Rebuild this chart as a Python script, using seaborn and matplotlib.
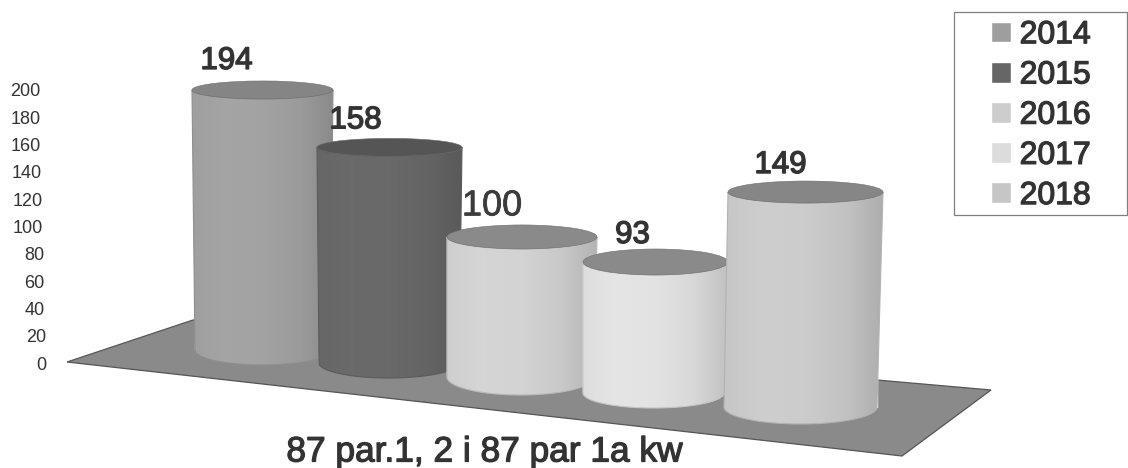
import numpy as np
import pandas as pd
import matplotlib
matplotlib.use("Agg")
import matplotlib.pyplot as plt
from matplotlib.path import Path
from matplotlib.patches import PathPatch, Polygon, Rectangle, Ellipse
from matplotlib.transforms import ScaledTranslation
import matplotlib.patheffects as pe
import seaborn as sns

# ---- data
years = ["2014", "2015", "2016", "2017", "2018"]
values = [194, 158, 100, 93, 149]
y_ticks = list(range(0, 201, 20))
x_title = "87 par.1, 2 i 87 par 1a kw"

# ---- styling / perspective layout (pixels unless noted)
grays = ["#9e9e9e", "#666666", "#cdcdcd", "#dcdcdc", "#c6c6c6"]
top_grays = ["#858585", "#555555", "#8a8a8a", "#8a8a8a", "#868686"]
centers = [262.5, 389.5, 522, 655.5, 805.5]
widths = [141, 145, 150, 145, 155]
base_px = [350, 363, 377, 393, 407]
persp = [0.982, 1.0, 1.026, 1.032, 1.057]
top_semi = [9, 9, 12, 13, 11]
bot_semi = [15, 15, 18, 15, 17]
left_shift = [3, 2, 0, 0, -4]
right_shift = [-3, -3, -3, -4, -6]
label_dx = [-36, -34, -30, -23, -25]
label_dy = [29, 27, 31, 27, 27]
floor_px = [(67, 362), (193, 320), (991, 390), (902, 456)]
shade = [1.0, 1.04, 1.03, 0.98, 0.86]

W, H, ZERO_PX, PX_PER_UNIT = 1128, 468, 363.0, 1.365

plt.rcParams["font.family"] = ["Liberation Sans", "DejaVu Sans"]
sns.set_style("white")
plt.rcParams["font.family"] = ["Liberation Sans", "DejaVu Sans"]


def yval(py):
    return (ZERO_PX - py) / PX_PER_UNIT


fig = plt.figure(figsize=(W / 100, H / 100), dpi=100)
ax = fig.add_axes([0, 0, 1, 1])
ax.patch.set_alpha(0)

df = pd.DataFrame({"pos": centers, "value": values, "year": years})
sns.barplot(data=df, x="pos", y="value", hue="year", hue_order=years,
            palette=dict(zip(years, grays)), dodge=False, native_scale=True,
            saturation=1, ax=ax, zorder=2)

# floor
ax.add_patch(Polygon([(x, yval(y)) for x, y in floor_px], closed=True,
                     facecolor="#8a8a8a", edgecolor="#555555", lw=0.9, zorder=1))

# turn each bar into a cylinder
for i, cont in enumerate(ax.containers):
    bar = cont[0]
    cx = centers[i]
    w = widths[i]
    base = yval(base_px[i])
    top = base + values[i] * persp[i]
    l, r = cx - w / 2, cx + w / 2
    bl, br = l + left_shift[i], r + right_shift[i]
    z = 3 + i
    bar.set_x(max(l, bl))
    bar.set_width(min(r, br) - max(l, bl))
    bar.set_y(base)
    bar.set_height(top - base)
    bar.set_zorder(z)

    rgb = np.array(matplotlib.colors.to_rgb(grays[i]))

    # side wall outline: straight sides, rounded front-bottom
    t = np.linspace(np.pi, 2 * np.pi, 60)
    bx = (bl + br) / 2 + (br - bl) / 2 * np.cos(t)
    by = base + bot_semi[i] / PX_PER_UNIT * np.sin(t)
    tx = cx + w / 2 * np.cos(t[::-1])
    ty = top + top_semi[i] / PX_PER_UNIT * np.sin(t[::-1])
    verts = np.vstack([np.column_stack([bx, by]), np.column_stack([tx, ty]),
                       [[bx[0], by[0]]]])
    codes = [Path.MOVETO] + [Path.LINETO] * (len(verts) - 2) + [Path.CLOSEPOLY]
    clip = PathPatch(Path(verts, codes), transform=ax.transData, facecolor="none",
                     edgecolor=tuple(rgb * 0.9), lw=0.8, zorder=z + 0.15)
    ax.add_patch(clip)

    prof = np.interp(np.linspace(0, 1, 128), np.linspace(0, 1, len(shade)), shade)
    img = np.clip(rgb[None, None, :] * prof[None, :, None], 0, 1)
    im = ax.imshow(img, extent=(l - 6, r + 6, by.min() - 5, top + 20), aspect="auto",
                   interpolation="bilinear", zorder=z + 0.1)
    im.set_clip_path(clip)

    ax.add_patch(Ellipse((cx, top), w, 2 * top_semi[i] / PX_PER_UNIT,
                         facecolor=top_grays[i], edgecolor="#6e6e6e", lw=0.4, zorder=z + 0.2))

    weight_fx = [pe.withStroke(linewidth=1.0, foreground="#333333")]
    big = values[i] == 100
    ax.annotate(str(values[i]), xy=(cx, top), xytext=(label_dx[i], label_dy[i]),
                textcoords="offset pixels", ha="center", va="center",
                fontsize=26 if big else 22.5, color="#3c3c3c" if big else "#333333",
                path_effects=[pe.withStroke(linewidth=0.5, foreground="#3c3c3c")] if big else weight_fx,
                zorder=20)

ax.set_xlim(0, W)
ax.set_ylim(yval(H), yval(0))

# y axis
sns.despine(ax=ax, left=True, bottom=True)
ax.set_yticks(y_ticks)
ax.set_yticklabels([str(v) for v in y_ticks])
ax.tick_params(axis="y", length=0, pad=-33.5, labelsize=13, labelcolor="#333333")
ax.set_ylabel("")
ax.set_xticks([])
for v, lab in zip(y_ticks, ax.get_yticklabels()):
    lab.set_transform(lab.get_transform() +
                      ScaledTranslation(-(v / 200) * 6.5 / 100, 0, fig.dpi_scale_trans))

# title below
ax.set_xlabel(x_title, fontsize=25.4, color="#333333")
ax.xaxis.set_label_coords(484 / W, 1 - 452 / H)
ax.xaxis.label.set_va("center")
ax.xaxis.label.set_path_effects([pe.withStroke(linewidth=0.9, foreground="#333333")])

# legend
ax.add_patch(Rectangle((954, yval(215)), 173, yval(12) - yval(215), facecolor="white",
                       edgecolor="#808080", lw=0.9, zorder=25))
sns.move_legend(ax, loc="upper left", bbox_to_anchor=(988 / W, 1 - 17 / H), frameon=False,
                title=None, fontsize=23, labelspacing=0.32, handlelength=0.62,
                handleheight=0.62, handletextpad=0.27, borderpad=0.1, borderaxespad=0)
leg = ax.get_legend()
leg.set_zorder(30)
for txt in leg.get_texts():
    txt.set_color("#333333")
    txt.set_path_effects([pe.withStroke(linewidth=0.9, foreground="#333333")])

fig.savefig("out.png", dpi=100, facecolor="white")
